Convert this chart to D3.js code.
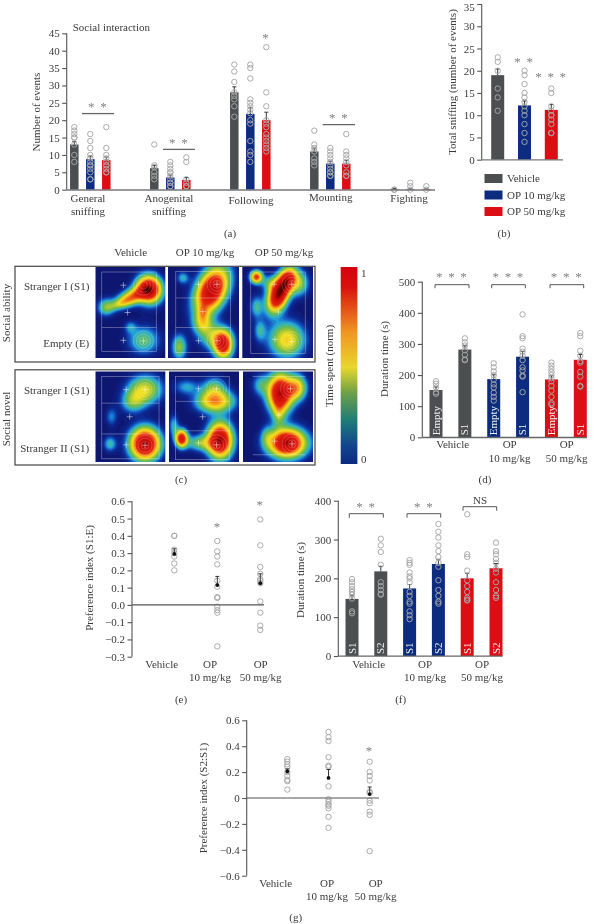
<!DOCTYPE html>
<html><head><meta charset="utf-8">
<script src="https://cdn.jsdelivr.net/npm/d3@7/dist/d3.min.js"></script>
<style>html,body{margin:0;padding:0;background:#fff}svg{display:block}text{font-family:"Liberation Serif",serif;fill:#383838}</style>
</head><body><div id="c"></div>
<script>
// ---------- data ----------
const seriesNames=["Vehicle","OP 10 mg/kg","OP 50 mg/kg"];
const seriesColors=["#4c4e52","#0c2c80","#dc0d14"];

const aCategories=["General sniffing","Anogenital sniffing","Following","Mounting","Fighting"];
const aMeans=[[13,8.8,8.5],[6.2,3.5,2.8],[28,21.8,20],[11,7.5,7.5],[0.2,0.2,0.2]];
const aErrors=[[0.9,0.9,0.9],[0.8,0.7,0.7],[1.6,1.9,2.3],[1,0.7,0.9],[0.1,0.15,0.1]];
const aPoints=[
 [[18,17,16,15,15,13,10,8],[16,14,12,10,9,8,7,7,6,5,3,3],[18,12,10,9,8,7,7,6,5,5]],
 [[13,7,6.5,5,4,3],[8,7,6,5,5,4,3,2,2,1,1],[9.3,8,3,2,1,1,1]],
 [[36,34,31,28,27,26,24,21],[36,35,32,26,25,24,23,22,20,19,14,11,10,8],[41,28,24,20,19,18,16,15,14,13,12,11]],
 [[17,13,12,11,9,8,7],[12,11,10,9,8,7,6,5,5,4,4],[16,11,10,9,8,7,5,4,4]],
 [[0,0],[2,1,0],[1,0]]];

const bMeans=[19,12.2,11.2];
const bErrors=[1.4,1,1.2];
const bPoints=[[23,22,20,16,14,11],[20,19,17,15,14,13,12,11,10,8,6,4],[16,15,12,11,10,10,9,8,6,6]];

const dMeans=[152,282,187,259,186,249];
const dErrors=[10,12,14,17,12,17];
const dBarLabels=["Empty","S1","Empty","S1","Empty","S1"];
const dPoints=[[180,172,160,145,140],[318,305,295,280,265,250,248],
 [238,225,212,200,185,170,160,143,130,118],[395,325,318,285,275,262,248,225,215,198,195,145],
 [240,230,220,210,200,190,180,165,150,130,110,105],[335,325,278,262,245,240,210,195,165,163]];

const eMeans=[0.295,0.115,0.125];
const eErrors=[0.03,0.05,0.055];
const ePoints=[[0.4,0.4,0.32,0.3,0.28,0.24,0.2],[0.37,0.31,0.28,0.235,0.14,0.105,0.045,0.04,-0.01,-0.03,-0.045,-0.24],
 [0.495,0.345,0.22,0.18,0.15,0.14,0.125,0.02,-0.045,-0.12,-0.145]];

const fMeans=[147,218,174,237,200,226];
const fErrors=[10,13,10,12,13,12];
const fBarLabels=["S1","S2","S1","S2","S1","S2"];
const fPoints=[[198,190,180,172,165,158,148,115,110],[302,285,268,235,190,180,170,160,158],
 [247,240,235,215,205,200,190,165,155,140,135,115,105,95],[340,320,305,285,270,255,240,230,195,170,155,140,135],
 [365,262,255,220,195,180,165,150,145,143],[292,270,262,250,240,225,215,190,170,155,150]];

const gMeans=[0.205,0.155,0.03];
const gErrors=[0.02,0.065,0.055];
const gPoints=[[0.3,0.28,0.26,0.24,0.2,0.17,0.14,0.13,0.065],
 [0.51,0.47,0.44,0.315,0.25,0.24,0.09,-0.01,-0.03,-0.05,-0.06,-0.08,-0.145,-0.23],
 [0.28,0.2,0.17,0.135,0.05,0.04,-0.02,-0.04,-0.105,-0.13,-0.41]];

// heat maps: each blob is [u, v, sigmaU, sigmaV, angleDeg, amplitude]
const heatBlobs=[
 [[.77,.245,.10,.085,-15,1.02],[.52,.33,.14,.05,-25,.55],[.15,.44,.07,.055,0,.28],[.36,.40,.10,.03,-20,.2],[.69,.805,.13,.09,0,.27],[.5,.66,.05,.04,0,.15]],
 [[.615,.256,.115,.15,25,1.02],[.21,.12,.05,.04,0,.2],[.49,.62,.08,.07,0,.35],[.49,.5,.04,.05,0,.2],[.78,.86,.075,.085,0,.8],[.66,.77,.12,.08,0,.33],[.16,.88,.06,.08,0,.33]],
 [[.51,.31,.08,.11,20,1.05],[.64,.13,.07,.08,20,.68],[.8,.18,.08,.08,0,.33],[.2,.11,.05,.04,0,.72],[.2,.44,.05,.07,0,.22],[.25,.70,.05,.07,0,.2],[.63,.8,.14,.11,0,.5],[.39,.18,.07,.05,0,.2]],
 [[.71,.2,.14,.09,0,.42],[.54,.33,.1,.07,-20,.28],[.23,.5,.05,.06,0,.15],[.21,.8,.055,.05,0,.22],[.71,.8,.12,.1,0,1.07]],
 [[.66,.33,.15,.07,0,.58],[.64,.18,.1,.07,0,.25],[.25,.17,.1,.05,0,.18],[.18,.74,.05,.055,0,.85],[.73,.76,.1,.11,0,1.05],[.45,.79,.12,.05,0,.3],[.07,.6,.04,.07,0,.2]],
 [[.53,.24,.1,.12,0,1.02],[.77,.18,.08,.08,0,.5],[.25,.15,.07,.07,0,.2],[.51,.48,.05,.08,0,.2],[.63,.79,.15,.09,0,1.06],[.34,.72,.05,.07,0,.15]]
];
const heatFrames=[[.09,.055,.87,.93],[.11,.05,.88,.94],[.12,.055,.89,.95],[.09,.055,.91,.965],[.09,.055,.86,.975],null];
const heatLines=[[.665],[.34,.665],[],[.35,.69],[.33,.655],[.055,.92]];
const heatPlus=[
 [[.40,.2],[.46,.5],[.40,.806],[.686,.813]],
 [[.43,.19],[.49,.49],[.43,.81],[.69,.81],[.69,.19]],
 [[.45,.19],[.51,.495],[.46,.795],[.7,.82],[.7,.19]],
 [[.44,.2],[.49,.5],[.44,.81],[.71,.2],[.71,.815]],
 [[.42,.19],[.48,.5],[.42,.79],[.68,.19],[.68,.81]],
 [[.45,.77],[.51,.48],[.7,.8],[.68,.19]]];
const heatRings=[
 [[.686,.813],[.686,.2]],[[.69,.81],[.69,.19]],[[.7,.82],[.7,.19]],
 [[.71,.2],[.71,.815]],[[.68,.19],[.68,.81]],[[.68,.19],[.7,.8]]];
const heatValues=[0,.06,.11,.16,.21,.28,.37,.45,.56,.7,1.0,1.12,1.22];
const heatColors=["#0a1670","#0c2a92","#1558c2","#24a0da","#40b8a4","#6cba50","#b8cc30","#f3e21e","#f7a31b","#e62a12","#c80808","#600000","#100000"];
const barStops=[0,.1,.22,.36,.49,.67,.9,1];
const barColors=["#0b2a80","#12478c","#1f7c78","#6ca048","#e8d72c","#f09520","#d9100f","#d6000c"];

const columnTitles=["Vehicle","OP 10 mg/kg","OP 50 mg/kg"];
const rowLabels=["Stranger I (S1)","Empty (E)","Stranger I (S1)","Stranger II (S1)"];

// ---------- helpers ----------
const W=595,H=924,FS=11;
const svg=d3.select("#c").append("svg").attr("width",W).attr("height",H);
const defs=svg.append("defs");
defs.append("filter").attr("id","soft").attr("x","-5%").attr("y","-5%").attr("width","110%").attr("height","110%")
  .append("feGaussianBlur").attr("stdDeviation",0.7);
function label(x,y,s,o={}){
  const t=svg.append("text").attr("x",x).attr("y",y).text(s)
    .attr("font-size",o.size||FS).attr("text-anchor",o.anchor||"middle").style("opacity",.99);
  if(o.fill)t.style("fill",o.fill);
  if(o.spacing)t.attr("letter-spacing",o.spacing);
  if(o.rotate)t.attr("transform",`rotate(${o.rotate} ${x} ${y})`);
  return t;
}
function yLabel(x,y,s){label(x,y,s,{rotate:-90});}
function stars(x,y,n){
  label(x,y+4,d3.range(n).map(()=>"*").join(" "),{size:13,fill:"#808080",spacing:1.2});
}
function yAxis(x,scale,values,fmt){
  const g=svg.append("g").attr("transform",`translate(${x},0)`)
    .call(d3.axisLeft(scale).tickValues(values).tickSize(4.5).tickPadding(2.5).tickFormat(fmt||d3.format("d")));
  g.selectAll("path,line").attr("stroke","#555").attr("stroke-width",1.1);
  g.select(".domain").attr("d",`M0,${scale.range()[0]}V${scale.range()[1]}`);
  g.selectAll("text").attr("font-size",FS).attr("font-family",'"Liberation Serif",serif').style("fill","#383838").style("opacity",.99);
  return g;
}
function hline(x0,x1,y,c="#666",w=1.3){
  svg.append("line").attr("x1",x0).attr("x2",x1).attr("y1",y).attr("y2",y).attr("stroke",c).attr("stroke-width",w);
}
function bar(x,w,y,y0,color){
  svg.append("rect").attr("x",x-w/2).attr("width",w).attr("y",y).attr("height",y0-y).attr("fill",color);
}
function errBar(x,y,yTop,cap=2){
  svg.append("path").attr("d",`M${x},${y}V${yTop}M${x-cap},${yTop}H${x+cap}`).attr("stroke","#222").attr("stroke-width",.9).attr("fill","none");
}
function dots(x,scale,vals,r=2.7){
  svg.append("g").selectAll("circle").data(vals).join("circle")
    .attr("cx",x).attr("cy",d=>scale(d)).attr("r",r)
    .attr("fill","none").attr("stroke","#a6a6a6").attr("stroke-width",.95);
}
function bracket(x0,x1,y,drop=3.5){
  svg.append("path").attr("d",`M${x0},${y+drop}V${y}H${x1}V${y+drop}`).attr("fill","none").attr("stroke","#555").attr("stroke-width",1);
}
function barWithDots(x,w,yS,mean,err,pts,color){
  bar(x,w,yS(mean),yS(0),color);
  errBar(x,yS(mean),yS(mean+err));
  dots(x,yS,pts);
}

// ---------- panel a ----------
{
  const y=d3.scaleLinear().domain([0,45]).range([189.7,33.3]);
  const gx=d3.scalePoint().domain(aCategories).range([90.3,410.3]);
  const sx=d3.scalePoint().domain(seriesNames).range([-16,16]);
  aCategories.forEach((c,i)=>seriesNames.forEach((s,j)=>
    barWithDots(gx(c)+sx(s),8.5,y,aMeans[i][j],aErrors[i][j],aPoints[i][j],seriesColors[j])));
  hline(66.7,435,189.9,"#777",1.5);
  yAxis(66.7,y,d3.range(0,46,5));
  label(72.7,31,"Social interaction",{anchor:"start"});
  yLabel(40,112,"Number of events");
  [["General",88,202],["sniffing",88,215],["Anogenital",169,201.7],["sniffing",169,215],["Following",251,204],["Mounting",330.7,201],["Fighting",409,201.7]]
    .forEach(d=>label(d[1],d[2],d[0]));
  hline(82,114,y(21.9));stars(98,107,2);
  hline(163,195,y(11.6));stars(179,142.5,2);
  hline(322.7,355,y(18.7));stars(339,118,2);
  stars(266,38,1);
  label(230,237,"(a)");
}
// ---------- panel b ----------
{
  const y=d3.scaleLinear().domain([0,35]).range([159.7,4]);
  const x=d3.scalePoint().domain(seriesNames).range([497.7,551.3]);
  seriesNames.forEach((s,j)=>barWithDots(x(s),13,y,bMeans[j],bErrors[j],bPoints[j],seriesColors[j]));
  hline(481.7,563,159.9,"#777",1.3);
  const ax=yAxis(481.7,y,d3.range(0,36,5));
  ax.selectAll(".tick text").filter(d=>d===35).attr("dy","0.55em");
  yLabel(456,82,"Total sniffing (number of events)");
  stars(524.3,62,2);stars(551.3,77,3);
  const ly=d3.scalePoint().domain(seriesNames).range([178.5,211.5]);
  seriesNames.forEach((s,j)=>{
    svg.append("rect").attr("x",484.5).attr("y",ly(s)-4.5).attr("width",18).attr("height",9).attr("fill",seriesColors[j]);
    label(507,ly(s)+3.5,s,{anchor:"start"});
  });
  label(504,237,"(b)");
}
// ---------- panel c ----------
{
  const rows=[[267,358],[371.5,462]];
  const cols=[[[95.5,165.3],[168,239],[242.3,313]],[[95.5,165.3],[169,239],[243,313]]];
  const color=d3.scaleLinear().domain(heatValues).range(heatColors).clamp(true);
  const levels=d3.range(.02,1.4,.02);
  const spread=1.18;
  [[15,266.3,300,95.7],[15,369.8,300,95.2]].forEach(b=>
    svg.append("rect").attr("x",b[0]).attr("y",b[1]).attr("width",b[2]).attr("height",b[3]).attr("fill","none").attr("stroke","#444").attr("stroke-width",1.2));
  heatBlobs.forEach((blobs,k)=>{
    const r=k<3?0:1,c=k%3,[x0,x1]=cols[r][c],[y0,y1]=rows[r];
    const w=x1-x0,h=y1-y0;
    const u=d3.scaleLinear().range([x0,x1]),v=d3.scaleLinear().range([y0,y1]);
    const n=Math.round(w*2),m=Math.round(h*2),grid=new Float64Array(n*m);
    for(let j=0;j<m;j++)for(let i=0;i<n;i++){
      const a=(i+.5)/n,b=(j+.5)/m;let s=0;
      blobs.forEach(([cu,cv,su,sv,ang,amp])=>{
        const t=ang*Math.PI/180,px=(a-cu)*w,py=(b-cv)*h;
        const qx=(px*Math.cos(t)+py*Math.sin(t))/(su*spread*w),qy=(-px*Math.sin(t)+py*Math.cos(t))/(sv*spread*h);
        s+=amp*Math.exp(-.5*(qx*qx+qy*qy));
      });
      grid[j*n+i]=s;
    }
    const id="hc"+k;
    defs.append("clipPath").attr("id",id).append("rect").attr("x",x0).attr("y",y0).attr("width",w).attr("height",h);
    const outer=svg.append("g").attr("clip-path",`url(#${id})`);
    const g=outer.append("g").attr("filter","url(#soft)");
    g.append("rect").attr("x",x0-4).attr("y",y0-4).attr("width",w+8).attr("height",h+8).attr("fill",color(0));
    const path=d3.geoPath(d3.geoTransform({point(px,py){this.stream.point(x0+px*w/n,y0+py*h/m);}}));
    g.selectAll("path").data(d3.contours().size([n,m]).thresholds(levels)(grid)).join("path")
      .attr("d",path).attr("fill",d=>color(d.value));
    const wl=outer.append("g").attr("stroke","#fff").attr("fill","none").attr("stroke-width",.6).attr("stroke-opacity",.5);
    const f=heatFrames[k];
    if(f)wl.append("rect").attr("x",u(f[0])).attr("y",v(f[1])).attr("width",u(f[2])-u(f[0])).attr("height",v(f[3])-v(f[1]));
    heatLines[k].forEach(l=>wl.append("line").attr("x1",u(f?f[0]:.14)).attr("x2",u(f?f[2]:.89)).attr("y1",v(l)).attr("y2",v(l)));
    heatRings[k].forEach(p=>[4,7,10].forEach(rr=>wl.append("circle").attr("cx",u(p[0])).attr("cy",v(p[1])).attr("r",rr).attr("stroke-opacity",.3)));
    heatPlus[k].forEach(p=>wl.append("path").attr("d",`M${u(p[0])-3},${v(p[1])}h6M${u(p[0])},${v(p[1])-3}v6`).attr("stroke-opacity",.65).attr("stroke-width",.7));
  });
  const cx=d3.scalePoint().domain(columnTitles).range([130.7,284]);
  columnTitles.forEach((t,i)=>label(i==1?205:cx(t),256,t));
  [290,347,394.3,452].forEach((yy,i)=>label(89.3,yy,rowLabels[i],{anchor:"end"}));
  yLabel(9.5,313,"Social ability");
  yLabel(9.5,419,"Social novel");
  // colour bar
  const grad=defs.append("linearGradient").attr("id","cb").attr("x1",0).attr("x2",0).attr("y1",1).attr("y2",0);
  barStops.forEach((s,i)=>grad.append("stop").attr("offset",s).attr("stop-color",barColors[i]));
  svg.append("rect").attr("x",340.7).attr("y",267).attr("width",16.7).attr("height",197).attr("fill","url(#cb)");
  label(361,276.5,"1",{anchor:"start"});
  label(361,462.5,"0",{anchor:"start"});
  yLabel(333,366,"Time spent (norm)");
  label(181,483,"(c)");
}
// ---------- panel d ----------
function sixBars(o){
  const y=d3.scaleLinear().domain(o.dom).range(o.rng);
  const idx=d3.range(6);
  const x=d3.scalePoint().domain(idx).range(o.xr);
  idx.forEach(i=>{
    barWithDots(x(i),13,y,o.means[i],o.errs[i],o.pts[i],seriesColors[Math.floor(i/2)]);
    label(x(i)+3.6,y(0)-2,o.barLabels[i],{anchor:"start",rotate:-90,fill:"#f2f2f2"});
  });
  hline(o.ax,o.axEnd,y(0)+.2,"#666",1.3);
  yAxis(o.ax,y,o.ticks);
}
{
  sixBars({dom:[0,500],rng:[437.3,281.7],xr:[436,580.3],means:dMeans,errs:dErrors,pts:dPoints,barLabels:dBarLabels,ax:422.3,axEnd:587,ticks:d3.range(0,501,100)});
  yLabel(388,359,"Duration time (s)");
  [[435,469],[491.7,525.3],[550,583.7]].forEach(b=>{bracket(b[0],b[1],284.7);stars((b[0]+b[1])/2,277,3);});
  label(452.7,448,"Vehicle");
  label(509.7,448,"OP");label(509.7,462,"10 mg/kg");
  label(566.7,448,"OP");label(566.7,462,"50 mg/kg");
  label(485,483,"(d)");
}
// ---------- panel e ----------
function prefPanel(o){
  const y=d3.scaleLinear().domain(o.dom).range(o.rng);
  const x=d3.scalePoint().domain(seriesNames).range(o.xr);
  seriesNames.forEach((s,j)=>{
    dots(x(s),y,o.pts[j]);
    errBar(x(s),y(o.means[j]),y(o.means[j]+o.errs[j]));
    svg.append("circle").attr("cx",x(s)).attr("cy",y(o.means[j])).attr("r",1.9).attr("fill","#111");
  });
  hline(o.ax,o.axEnd,y(0),"#555",1.2);
  yAxis(o.ax,y,o.ticks,o.fmt);
}
{
  prefPanel({dom:[-.3,.6],rng:[656.7,501.3],xr:[174.3,260.3],means:eMeans,errs:eErrors,pts:ePoints,ax:132,axEnd:264,ticks:d3.range(-3,7).map(d=>d/10),fmt:d3.format(".1f")});
  yLabel(92.7,578,"Preference index (S1:E)");
  stars(217.7,526.7,1);stars(260.3,505,1);
  label(161.7,667.7,"Vehicle");
  label(210,667.7,"OP");label(210,681,"10 mg/kg");
  label(260.7,667.7,"OP");label(260.7,681,"50 mg/kg");
  label(181,703,"(e)");
}
// ---------- panel f ----------
{
  sixBars({dom:[0,400],rng:[656,500.7],xr:[352,496],means:fMeans,errs:fErrors,pts:fPoints,barLabels:fBarLabels,ax:338.3,axEnd:502.7,ticks:d3.range(0,401,100)});
  yLabel(304,580,"Duration time (s)");
  bracket(349.3,383.3,513.7,4);stars(366.3,507,2);
  bracket(407,440.7,513.7,4);stars(424,507,2);
  bracket(463,496.7,506.7,4);label(480,504,"NS");
  label(368.7,667.7,"Vehicle");
  label(425,667.7,"OP");label(425,681.3,"10 mg/kg");
  label(482,667.7,"OP");label(482,681.3,"50 mg/kg");
  label(400.7,702.5,"(f)");
}
// ---------- panel g ----------
{
  prefPanel({dom:[-.6,.6],rng:[875.7,720.3],xr:[287.3,369.7],means:gMeans,errs:gErrors,pts:gPoints,ax:246.7,axEnd:379,ticks:d3.range(-3,4).map(d=>d/5),fmt:d=>d===0?"0":d3.format(".1f")(d)});
  yLabel(207,798,"Preference index (S2:S1)");
  stars(369.7,751,1);
  label(275.7,886.7,"Vehicle");
  label(327,886.7,"OP");label(327,900,"10 mg/kg");
  label(375.7,886.7,"OP");label(375.7,900,"50 mg/kg");
  label(295.7,921,"(g)");
}
</script></body></html>
